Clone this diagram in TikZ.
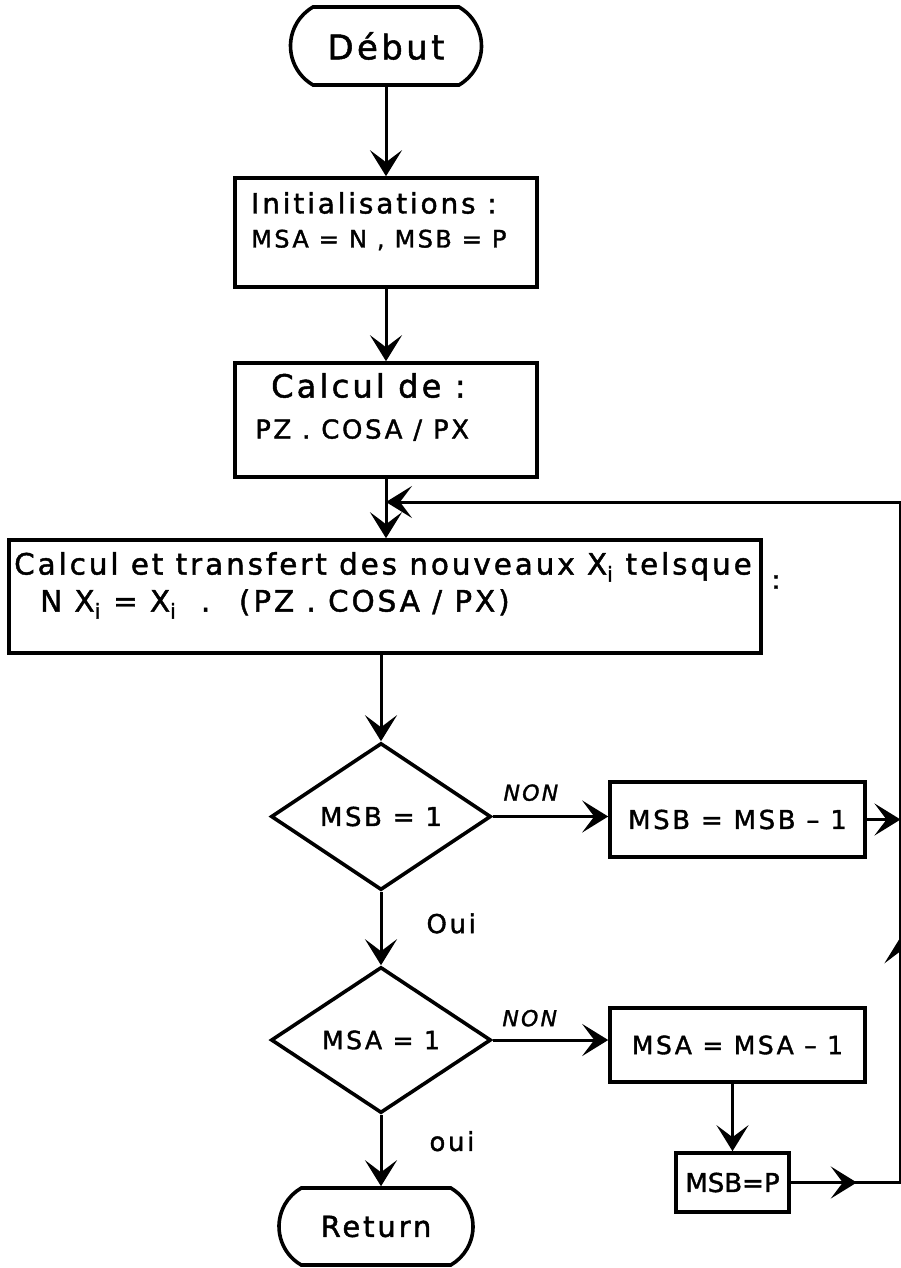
\documentclass[tikz,border=0pt]{standalone}
\usepackage{fontspec}
\newfontfamily\hand[LetterSpace=10,FakeBold=1.5]{DejaVu Sans}
\usetikzlibrary{arrows.meta,shapes.geometric,shapes.misc,decorations.markings}
\newcommand\fsz[2]{\fontsize{#1}{#2}\selectfont}
\tikzset{
  hd/.tip={Stealth[length=26pt,width=32pt,inset=12pt]},
  ink/.style={draw=black, line width=3.6pt},
  conn/.style={line width=3pt, -{hd}},
  plain/.style={line width=3pt},
  proc/.style={ink, rectangle, inner sep=0pt},
  term/.style={ink, rounded rectangle, rounded rectangle arc length=120, inner sep=0pt},
  dec/.style={ink, diamond, inner sep=0pt},
  txt/.style={inner sep=0pt, font=\hand, text=black},
  lbl/.style={inner sep=0pt, text=black},
}
\begin{document}
\begin{tikzpicture}[x=1pt,y=-1pt]
\useasboundingbox[fill=white] (0,0) rectangle (900,1268);
% terminals and boxes
\node[term, minimum width=191pt, minimum height=78pt, font=\hand\fsz{34}{36}] (debut) at (386,46) {Début};
\node[proc, minimum width=302pt, minimum height=109pt] (init) at (386,232.5) {};
\node[txt, align=left, anchor=north west, font=\hand\fsz{25}{34}] (initT) at (251,192)
  {{\fsz{28}{34}Initialisations :}\\{\fsz{24}{34}MSA = N , MSB = P}};
\node[proc, minimum width=302pt, minimum height=114pt] (calc) at (386,420) {};
\node[txt, align=left, anchor=north west, font=\hand\fsz{26}{41}] (calcT) at (255,373)
  {\hspace*{16pt}{\fsz{32}{41}Calcul de :}\\PZ . COSA / PX};
\coordinate (j) at (386,502);
\node[proc, minimum width=752pt, minimum height=113pt] (big) at (385,596.5) {};
\node[txt, align=left, anchor=north west, font=\hand\fsz{29.4}{37}] (bigT) at (14,552)
  {Calcul et transfert des nouveaux X\textsubscript{i} telsque\\\hspace*{26pt}N X\textsubscript{i} = X\textsubscript{i} \ . \ (PZ . COSA / PX)};
\node[txt, font=\hand\fsz{26}{28}] (colon) at (776,582) {:};
\node[dec, minimum width=220pt, minimum height=147pt, font=\hand\fsz{26}{30}] (d1) at (381,816.5) {MSB = 1};
\node[dec, minimum width=220pt, minimum height=146pt, font=\hand\fsz{25}{30}] (d2) at (381,1040) {MSA = 1};
\node[proc, minimum width=255pt, minimum height=75pt, font=\hand\fsz{26}{30}] (msb1) at (737.5,819.5) {MSB = MSB – 1};
\node[proc, minimum width=255pt, minimum height=74pt, font=\hand\fsz{25}{30}] (msa1) at (737.5,1045) {MSA = MSA – 1};
\node[proc, minimum width=113pt, minimum height=59pt, font=\hand\fsz{26}{30}\addfontfeature{LetterSpace=0}] (msbp) at (732.5,1182.5) {MSB=P};
\node[term, minimum width=194pt, minimum height=77pt, font=\hand\fsz{29}{32}] (ret) at (376,1226.5) {Return};
% right return line (mostly beyond the right edge, as in the scan)
\coordinate (rtop) at (900.5,502);
\coordinate (rbot) at (rtop |- msbp.east);
% connectors
\draw[conn] (debut.south) -- (debut.south |- init.north);
\draw[conn] (init.south) -- (init.south |- calc.north);
\draw[conn] (calc.south) -- (calc.south |- big.north);
\draw[conn] (d1.north |- big.south) -- (d1.north);
\draw[conn] (d1.south) -- node[lbl, pos=0.43, anchor=west, xshift=44pt, font=\hand\fsz{26}{30}] (oui1) {Oui} (d2.north);
\draw[conn] (d2.south) -- node[lbl, pos=0.37, anchor=west, xshift=47pt, font=\hand\fsz{26}{30}] (oui2) {oui} (d2.south |- ret.north);
\draw[conn] (d1.east) -- node[lbl, pos=0.33, above=14pt, font=\hand\itshape\fsz{22}{24}] (non1) {NON} (d1.east -| msb1.west);
\draw[conn] (d2.east) -- node[lbl, pos=0.32, above=12pt, font=\hand\itshape\fsz{22}{24}] (non2) {NON} (d2.east -| msa1.west);
\draw[conn] (msbp.north |- msa1.south) -- (msbp.north);
\draw[conn] (msb1.east) -- (msb1.east -| rtop);
\draw[plain, -{hd}, postaction={decorate}, decoration={markings,
    mark=at position 66pt with {\arrow{hd}},
    mark=at position 355pt with {\arrow{hd}}}]
  (msbp.east) -- (rbot) -- (rtop) -- (j);
\end{tikzpicture}
\end{document}
